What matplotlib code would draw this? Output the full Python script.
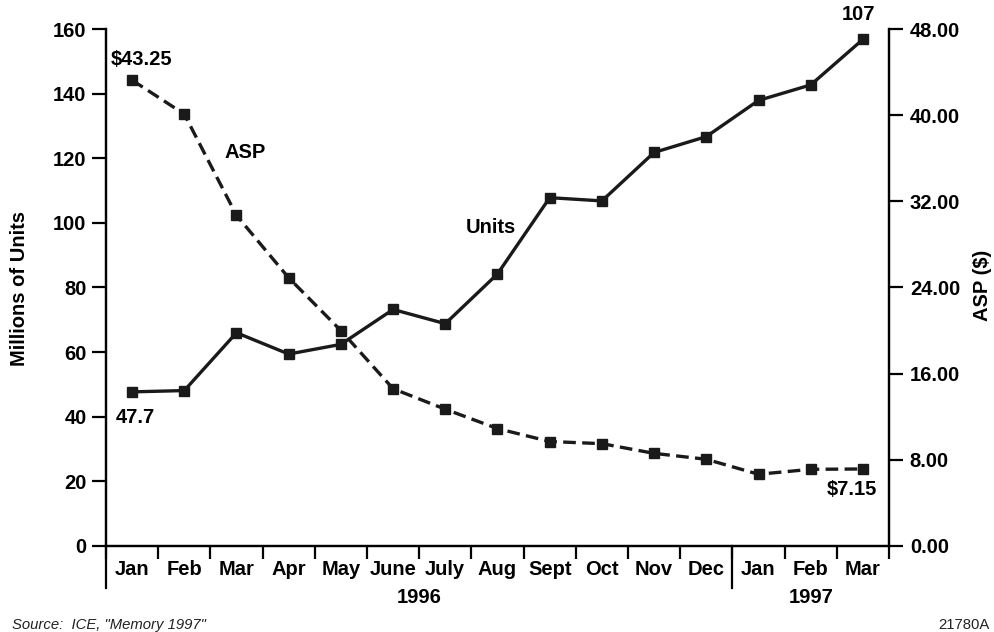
import numpy as np
import matplotlib
matplotlib.use('Agg')
import matplotlib.pyplot as plt

plt.rcParams['font.family'] = ['Liberation Sans', 'DejaVu Sans']

months = ['Jan', 'Feb', 'Mar', 'Apr', 'May', 'June', 'July', 'Aug', 'Sept',
          'Oct', 'Nov', 'Dec', 'Jan', 'Feb', 'Mar']
years = ['1996', '1997']
units = [47.7, 48.1, 66.0, 59.4, 62.4, 73.2, 68.8, 84.2, 107.8, 106.8,
         121.8, 126.7, 137.9, 142.7, 156.8]
asp = [43.25, 40.1, 30.7, 24.9, 20.0, 14.6, 12.7, 10.9, 9.7, 9.5,
       8.6, 8.05, 6.66, 7.12, 7.15]
left_ticks = [0, 20, 40, 60, 80, 100, 120, 140, 160]
right_ticks = [0, 8, 16, 24, 32, 40, 48]

FS = 14.5

fig = plt.figure(figsize=(9.95, 6.32), dpi=100)
ax = fig.add_axes([0.1065, 0.1361, 0.787, 0.818])
ax2 = ax.twinx()

x = np.arange(len(months))
ax.plot(x, units, color='#1a1a1a', lw=2.4, marker='s', ms=7.8, zorder=3)
ax2.plot(x, asp, color='#1a1a1a', lw=2.4, marker='s', ms=7.8,
         linestyle=(0, (3.8, 1.9)), zorder=3)

ax.set_xlim(-0.5, len(months) - 0.5)
ax.set_ylim(0, 160)
ax2.set_ylim(0, 48)

for a in (ax, ax2):
    a.spines['top'].set_visible(False)
    for s in a.spines.values():
        s.set_linewidth(1.6)

# left axis
ax.set_yticks(left_ticks)
ax.set_yticklabels([str(v) for v in left_ticks], fontsize=FS, fontweight='bold')
ax.tick_params(axis='y', length=10, width=1.6, pad=4)

# right axis
ax2.set_yticks(right_ticks)
ax2.set_yticklabels(['%.2f' % v for v in right_ticks], fontsize=FS, fontweight='bold')
ax2.tick_params(axis='y', length=10, width=1.6, pad=5)

# month labels at centers, boundary ticks as minor ticks
ax.set_xticks(x)
ax.set_xticklabels(months, fontsize=FS, fontweight='bold')
ax.tick_params(axis='x', which='major', length=0, pad=10)
ax.set_xticks(np.arange(-0.5, len(months), 1.0), minor=True)
ax.tick_params(axis='x', which='minor', length=9, width=1.6, direction='out')

# long separators (left edge and year break)
tr = ax.get_xaxis_transform()
ax.plot([-0.5, -0.5], [0, -0.081], transform=tr, color='black', lw=1.6, clip_on=False)
ax.plot([11.5, 11.5], [0, -0.081], transform=tr, color='black', lw=1.6, clip_on=False)

# year labels
ax.text(5.5, -0.10, years[0], transform=tr, ha='center', va='center',
        fontsize=FS, fontweight='bold')
ax.text(13, -0.10, years[1], transform=tr, ha='center', va='center',
        fontsize=FS, fontweight='bold')

# annotations
ax2.text(0.19, asp[0] + 1.95, '$43.25', ha='center', va='center', fontsize=FS, fontweight='bold')
ax.text(0.06, units[0] - 8, '47.7', ha='center', va='center', fontsize=FS, fontweight='bold')
ax.text(14.23, units[-1] + 7.7, '107', ha='right', va='center', fontsize=FS, fontweight='bold')
ax2.text(14.27, asp[-1] - 1.86, '$7.15', ha='right', va='center', fontsize=FS, fontweight='bold')
ax2.text(2.16, 36.5, 'ASP', ha='center', va='center', fontsize=FS, fontweight='bold')
ax.text(6.88, 98.5, 'Units', ha='center', va='center', fontsize=FS, fontweight='bold')

fig.text(20 / 995, 1 - 288 / 632, 'Millions of Units', rotation=90, ha='center',
         va='center', fontsize=FS, fontweight='bold')
fig.text(983 / 995, 1 - 285 / 632, 'ASP ($)', rotation=90, ha='center',
         va='center', fontsize=FS, fontweight='bold')

fig.text(12 / 995, 1 - 625 / 632, 'Source:  ICE, "Memory 1997"', ha='left', va='center',
         fontsize=10.7, style='italic', color='#222222')
fig.text(990 / 995, 1 - 625 / 632, '21780A', ha='right', va='center',
         fontsize=10.7, color='#222222')

fig.savefig('out.png', dpi=100)
